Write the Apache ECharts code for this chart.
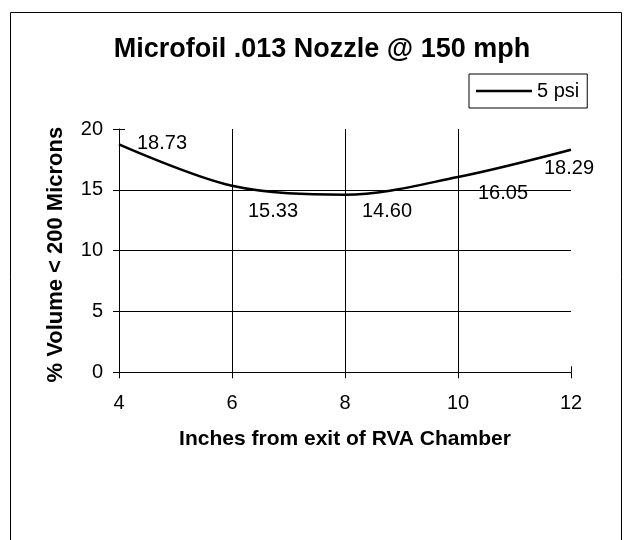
<!DOCTYPE html>
<html><head><meta charset="utf-8">
<script src="https://cdn.jsdelivr.net/npm/echarts@6/dist/echarts.min.js"></script>
<style>html,body{margin:0;padding:0;background:#fff}#c{width:624px;height:540px}</style>
</head><body><div id="c"></div>
<script>
const titleText = 'Microfoil .013 Nozzle @ 150 mph';
const seriesName = '5 psi';
const xTitle = 'Inches from exit of RVA Chamber';
const yTitle = '% Volume < 200 Microns';
const distances = [4, 6, 8, 10, 12];
const volumes = [18.73, 15.33, 14.60, 16.05, 18.29];
const xTicks = [4, 6, 8, 10, 12];
const yTicks = [0, 5, 10, 15, 20];
const labelOffsets = [[43, -1], [41, 26], [42, 17], [45, 16], [-2, 19]];

const FONT = "'Liberation Sans', Arial, sans-serif";
const chart = echarts.init(document.getElementById('c'), null, {renderer: 'canvas'});

const seriesData = distances.map((d, i) => ({
  value: [d, volumes[i]],
  label: {offset: labelOffsets[i]}
}));

const xMin = xTicks[0], xMax = xTicks[xTicks.length - 1], xInt = xTicks[1] - xTicks[0];
const yMin = yTicks[0], yMax = yTicks[yTicks.length - 1], yInt = yTicks[1] - yTicks[0];

const baseX = {type: 'value', min: xMin, max: xMax, interval: xInt, gridIndex: 0, position: 'bottom'};
const baseY = {type: 'value', min: yMin, max: yMax, interval: yInt, gridIndex: 0, position: 'left'};

chart.setOption({
  animation: false,
  backgroundColor: '#fff',
  textStyle: {fontFamily: FONT},
  title: {
    text: titleText, left: 322, top: 36, padding: 0, textAlign: 'center',
    textStyle: {fontFamily: FONT, fontSize: 27, fontWeight: 'bold', color: '#000'}
  },
  legend: {
    data: [seriesName], left: 469, top: 74, orient: 'vertical',
    icon: 'rect', itemWidth: 56, itemHeight: 2.5,
    padding: [7, 8, 7, 7], borderColor: '#000', borderWidth: 1,
    textStyle: {fontFamily: FONT, fontSize: 20, color: '#000'}
  },
  grid: {left: 119, top: 129, width: 452, height: 243.3, containLabel: false},
  xAxis: [
    Object.assign({}, baseX, {
      name: xTitle, nameLocation: 'middle', nameGap: 56,
      nameTextStyle: {fontFamily: FONT, fontSize: 21, fontWeight: 'bold', color: '#000'},
      axisLine: {show: true, lineStyle: {color: '#000', width: 1}},
      axisTick: {show: true, inside: false, length: 6, lineStyle: {color: '#000', width: 1}},
      axisLabel: {margin: 21, fontFamily: FONT, fontSize: 20, color: '#000'},
      splitLine: {show: true, showMinLine: false, showMaxLine: false, lineStyle: {color: '#000', width: 1}}
    }),
    Object.assign({}, baseX, {
      axisLine: {show: false}, axisLabel: {show: false}, splitLine: {show: false},
      axisTick: {show: true, inside: true, length: 6, lineStyle: {color: '#000', width: 1}}
    })
  ],
  yAxis: [
    Object.assign({}, baseY, {
      name: yTitle, nameLocation: 'middle', nameGap: 52,
      nameTextStyle: {fontFamily: FONT, fontSize: 22, fontWeight: 'bold', color: '#000', padding: [0, 8, 0, 0]},
      axisLine: {show: true, lineStyle: {color: '#000', width: 1}},
      axisTick: {show: true, inside: false, length: 6, lineStyle: {color: '#000', width: 1}},
      axisLabel: {margin: 16, fontFamily: FONT, fontSize: 20, color: '#000'},
      splitLine: {show: true, showMinLine: false, showMaxLine: false, lineStyle: {color: '#000', width: 1}}
    }),
    Object.assign({}, baseY, {
      axisLine: {show: false}, axisLabel: {show: false}, splitLine: {show: false},
      axisTick: {show: true, inside: true, length: 6, lineStyle: {color: '#000', width: 1}}
    })
  ],
  graphic: [{
    type: 'rect', silent: true, z: -1,
    shape: {x: 10.5, y: 12.5, width: 611, height: 600},
    style: {fill: 'none', stroke: '#000', lineWidth: 1}
  }],
  series: [{
    name: seriesName, type: 'line', xAxisIndex: 0, yAxisIndex: 0,
    data: seriesData, smooth: 0.33,
    symbol: 'circle', symbolSize: 0, showSymbol: true,
    itemStyle: {color: '#000'},
    lineStyle: {color: '#000', width: 2.5},
    label: {
      show: true, position: 'inside', align: 'center', verticalAlign: 'middle',
      fontFamily: FONT, fontSize: 20, color: '#000',
      formatter: p => p.value[1].toFixed(2)
    }
  }]
});
</script></body></html>
